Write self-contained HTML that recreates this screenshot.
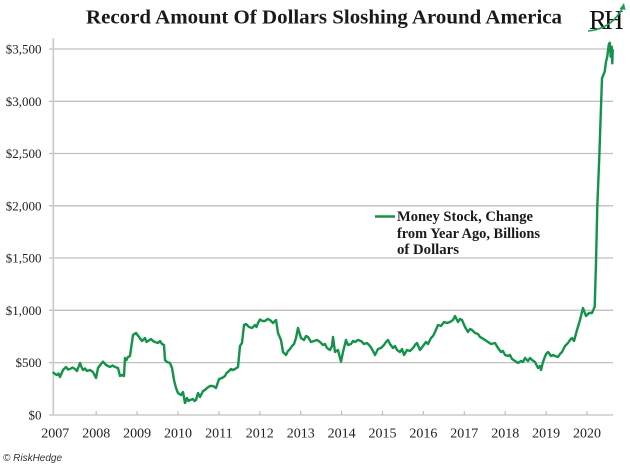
<!DOCTYPE html>
<html>
<head>
<meta charset="utf-8">
<style>
  html,body{margin:0;padding:0;background:#fff;}
  svg{display:block;}
</style>
</head>
<body>
<svg width="630" height="464" viewBox="0 0 630 464" xmlns="http://www.w3.org/2000/svg">
  <rect width="630" height="464" fill="#fff"/>
  <!-- Title -->
  <text x="86" y="23.3" font-family="Liberation Serif, serif" font-weight="bold" font-size="20" fill="#1a1a1a" textLength="476" lengthAdjust="spacingAndGlyphs">Record Amount Of Dollars Sloshing Around America</text>
  <!-- Logo -->
  <text x="589" y="29" font-family="Liberation Serif, serif" font-size="27" fill="#111">R</text>
  <text x="604" y="29" font-family="Liberation Serif, serif" font-size="27" fill="#111">H</text>
  <path d="M588,31 Q612,29 623,7" fill="none" stroke="#1f9d55" stroke-width="1.6"/>
  <path d="M619.5,9 L624,3 L625.5,10 Z" fill="#1f9d55"/>

  <!-- Gridlines -->
  <g stroke="#c0c0c0" stroke-width="1.3">
    <line x1="49" y1="49" x2="613" y2="49"/>
    <line x1="49" y1="101.3" x2="613" y2="101.3"/>
    <line x1="49" y1="153.5" x2="613" y2="153.5"/>
    <line x1="49" y1="205.8" x2="613" y2="205.8"/>
    <line x1="49" y1="258" x2="613" y2="258"/>
    <line x1="49" y1="310.3" x2="613" y2="310.3"/>
    <line x1="49" y1="362.6" x2="613" y2="362.6"/>
    <line x1="49" y1="415" x2="613" y2="415"/>
  </g>
  <!-- Axis -->
  <line x1="53.3" y1="38" x2="53.3" y2="415" stroke="#c8c8c8" stroke-width="1.6"/>
  <g stroke="#c0c0c0" stroke-width="1.2">
    <line x1="96.2" y1="411" x2="96.2" y2="415"/>
    <line x1="137.1" y1="411" x2="137.1" y2="415"/>
    <line x1="178" y1="411" x2="178" y2="415"/>
    <line x1="218.9" y1="411" x2="218.9" y2="415"/>
    <line x1="259.8" y1="411" x2="259.8" y2="415"/>
    <line x1="300.7" y1="411" x2="300.7" y2="415"/>
    <line x1="341.6" y1="411" x2="341.6" y2="415"/>
    <line x1="382.5" y1="411" x2="382.5" y2="415"/>
    <line x1="423.4" y1="411" x2="423.4" y2="415"/>
    <line x1="464.3" y1="411" x2="464.3" y2="415"/>
    <line x1="505.2" y1="411" x2="505.2" y2="415"/>
    <line x1="546.1" y1="411" x2="546.1" y2="415"/>
    <line x1="587" y1="411" x2="587" y2="415"/>
  </g>

  <!-- Y labels -->
  <g font-family="Liberation Serif, serif" font-size="13" fill="#222" text-anchor="end">
    <text x="41.5" y="53.5">$3,500</text>
    <text x="41.5" y="105.8">$3,000</text>
    <text x="41.5" y="158">$2,500</text>
    <text x="41.5" y="210.3">$2,000</text>
    <text x="41.5" y="262.5">$1,500</text>
    <text x="41.5" y="314.8">$1,000</text>
    <text x="41.5" y="367.1">$500</text>
    <text x="41.5" y="419.3">$0</text>
  </g>
  <!-- X labels -->
  <g font-family="Liberation Serif, serif" font-size="14" fill="#222" text-anchor="middle">
    <text x="55.3" y="437.5">2007</text>
    <text x="96.2" y="437.5">2008</text>
    <text x="137.1" y="437.5">2009</text>
    <text x="178" y="437.5">2010</text>
    <text x="218.9" y="437.5">2011</text>
    <text x="259.8" y="437.5">2012</text>
    <text x="300.7" y="437.5">2013</text>
    <text x="341.6" y="437.5">2014</text>
    <text x="382.5" y="437.5">2015</text>
    <text x="423.4" y="437.5">2016</text>
    <text x="464.3" y="437.5">2017</text>
    <text x="505.2" y="437.5">2018</text>
    <text x="546.1" y="437.5">2019</text>
    <text x="587" y="437.5">2020</text>
  </g>

  <!-- Series -->
  <polyline fill="none" stroke="#13934a" stroke-width="2.4" stroke-linejoin="round" stroke-linecap="round"
    points="53.5,372.7 55,374 57,375 58.5,373.5 60,377 63,370 66,367 68,369.5 70,369 72.5,367.5 75,369 77,371 80,363 81.5,367 83,370 85,368.5 87,371 90,370 93,372 96,378 98,368 101,364 103,361.7 106,365 108,366 110,367 112.5,365.5 115,367 118,368 120,376 122,375 124,376 125,358 126.5,360 128,357 130,356 133,335 136,333 137.5,335 139,337 140.5,339 142,341 145,338 146.5,342 148,341 151,339 153,341 155,342 158,343 160,341 162,344 164,345 165,360 167,362 170,363 172,368 174,380 176,388 178,393 181,395 183,392 185,403 187,398 188.5,401 190,400 193,399 194.5,401 196,400 198,393 200,397 203,391 205,390 207,388 210,386 213,386 216,388 219,379 222,378 225,376 226.5,373 228,372 231,369 233,370 235,369 238,367 240,346 242,343 244,325 246,324 249,327 252,328 255,325 256.5,327 258,323 260,319.5 262.5,321 265,321 267.5,319 270,320 273,323 276,320 278,333 281,340 283,352 286,355 288,351 290,349 292,346 294,344 296,338 298,328 301,338 304,340 306,336 308,337 311,342 314,341 317,340 320,342 323,345 325,344 327,348 330,350 332,346 333,337 335,352 338,350 340,358 341,361.7 343,352 346,340 348,345 351,344 353,341 355,342 358,340 361,341 364,344 367,343 370,346 373,351 375,355 378,349 381,348 384,345 386,342 388,340 390,344 393,348 395,346 397,350 400,352 402,349 404,355 407,350 410,351 413,348 415,345 417,343 420,350 423,346 426,342 428,344 431,338 433,336 435,332 438,325 441,326 444,322 447,323 450,322 453,320 455,316 458,322 460,319 462,320 465,327 468,332 470,329 472,330 475,333 478,334 480,337 482,338 485,340 488,342 491,344 495,343 498,348 501,352 503,351 505,355 508,356 510,355 512,359 515,361 518,363 521,361 523,362 525,358 528,361 530,358 532,360 535,362 538,368 540,366 541,370 543,362 546,354 548,352 551,356 553,355 555,356 558,357 560,354 562,352 565,346 568,343 570,340 572,338 574,341 577,330 580,320 583,308 586,316 589,313 592,313 594.7,306.7 596,263 597.3,206.7 599.3,156.7 601,106.7 602,78.3 603.3,75 604.7,71.7 606,61.7 607.3,56.7 608.7,45 609.7,42.7 610.7,56.7 611.7,46.7 612.3,63.3 612.7,50"/>

  <!-- Legend -->
  <line x1="375" y1="216.5" x2="395" y2="216.5" stroke="#13934a" stroke-width="2.4"/>
  <g font-family="Liberation Serif, serif" font-weight="bold" font-size="15" fill="#1a1a1a">
    <text x="397" y="221" textLength="136" lengthAdjust="spacingAndGlyphs">Money Stock, Change</text>
    <text x="397" y="238" textLength="143" lengthAdjust="spacingAndGlyphs">from Year Ago, Billions</text>
    <text x="397" y="254" textLength="62" lengthAdjust="spacingAndGlyphs">of Dollars</text>
  </g>

  <!-- Copyright -->
  <text x="3" y="461" font-family="Liberation Sans, sans-serif" font-style="italic" font-size="10" fill="#333">© RiskHedge</text>
</svg>
</body>
</html>
